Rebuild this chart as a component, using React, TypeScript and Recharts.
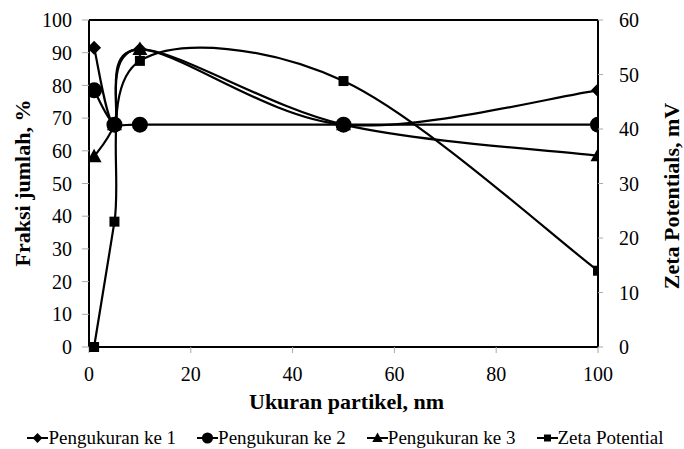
import React from 'react';
import { ComposedChart, Line, XAxis, YAxis, Legend, ReferenceLine, Label } from 'recharts';

const sizes = [1, 5, 10, 50, 100];
const pengukuran1 = [91.5, 68, 91, 68, 78.5];
const pengukuran2 = [78.5, 68, 68, 68, 68];
const pengukuran3 = [58.2, 68, 91, 68, 58.5];
const zetaPotential = [0, 23, 52.5, 48.8, 14];

const xTicks = [0, 20, 40, 60, 80, 100];
const leftTicks = [0, 10, 20, 30, 40, 50, 60, 70, 80, 90, 100];
const rightTicks = [0, 10, 20, 30, 40, 50, 60];

const data = sizes.map((x, i) => ({
  x,
  p1: pengukuran1[i],
  p2: pengukuran2[i],
  p3: pengukuran3[i],
  zeta: zetaPotential[i],
}));

const FONT = '"Liberation Serif", "Times New Roman", serif';

// Excel-like smoothing (uniform Catmull-Rom as cubic Beziers)
const excelSmooth: any = (context: any) => {
  let pts: [number, number][] = [];
  return {
    areaStart() {},
    areaEnd() {},
    lineStart() {
      pts = [];
    },
    point(x: number, y: number) {
      pts.push([+x, +y]);
    },
    lineEnd() {
      const n = pts.length;
      if (!n) return;
      context.moveTo(pts[0][0], pts[0][1]);
      for (let i = 0; i < n - 1; i++) {
        const p0 = pts[i - 1] || pts[i];
        const p1 = pts[i];
        const p2 = pts[i + 1];
        const p3 = pts[i + 2] || p2;
        context.bezierCurveTo(
          p1[0] + (p2[0] - p0[0]) / 6,
          p1[1] + (p2[1] - p0[1]) / 6,
          p2[0] - (p3[0] - p1[0]) / 6,
          p2[1] - (p3[1] - p1[1]) / 6,
          p2[0],
          p2[1]
        );
      }
    },
  };
};

type Shape = 'diamond' | 'circle' | 'triangle' | 'square';

const marker = (shape: Shape, cx: number, cy: number, s: number, key?: any) => {
  if (cx == null || cy == null || isNaN(cx) || isNaN(cy)) return <g key={key} />;
  switch (shape) {
    case 'diamond':
      return (
        <polygon key={key} points={`${cx},${cy - s} ${cx + s},${cy} ${cx},${cy + s} ${cx - s},${cy}`} fill="#000" />
      );
    case 'circle':
      return <circle key={key} cx={cx} cy={cy} r={s} fill="#000" />;
    case 'triangle':
      return (
        <polygon
          key={key}
          points={`${cx},${cy - s * 1.05} ${cx + s},${cy + s * 0.75} ${cx - s},${cy + s * 0.75}`}
          fill="#000"
        />
      );
    default:
      return <rect key={key} x={cx - s} y={cy - s} width={2 * s} height={2 * s} fill="#000" />;
  }
};

const seriesShapes: Record<string, Shape> = { p1: 'diamond', p2: 'circle', p3: 'triangle', zeta: 'square' };
const seriesSizes: Record<string, number> = { p1: 7, p2: 8, p3: 7.5, zeta: 5 };

const dotFor = (key: string) => (props: any) =>
  marker(seriesShapes[key], props.cx, props.cy, seriesSizes[key], `${key}-${props.index}`);

const LegendContent = (props: any) => {
  const payload = props.payload || [];
  return (
    <div
      style={{
        display: 'flex',
        justifyContent: 'center',
        gap: 21,
        fontFamily: FONT,
        fontSize: 19,
        color: '#000',
        paddingLeft: 7,
      }}
    >
      {payload.map((entry: any) => {
        const k = entry.dataKey as string;
        const sz = seriesSizes[k] * 0.7;
        return (
          <div key={k} style={{ display: 'flex', alignItems: 'center', whiteSpace: 'nowrap' }}>
            <svg width={21} height={16} style={{ marginRight: 0 }}>
              <line x1={0} y1={8} x2={21} y2={8} stroke="#000" strokeWidth={2} />
              {marker(seriesShapes[k], 10.5, 8, sz)}
            </svg>
            <span>{entry.value}</span>
          </div>
        );
      })}
    </div>
  );
};

const tickStyle = { fontSize: 20, fill: '#000', fontFamily: FONT };

export default function App() {
  return (
    <div style={{ position: 'fixed', left: 0, top: 0, width: 684, height: 449, background: '#fff' }}>
      <ComposedChart width={684} height={449} data={data} margin={{ top: 20, right: 0, bottom: 0, left: 0 }}>
        <XAxis
          dataKey="x"
          type="number"
          domain={[0, 100]}
          ticks={xTicks}
          allowDataOverflow
          height={102}
          axisLine={{ stroke: '#000', strokeWidth: 2 }}
          tickLine={{ stroke: '#aaa', strokeWidth: 1 }}
          tickSize={6}
          tickMargin={14}
          tick={tickStyle}
        >
          <Label
            content={(p: any) => {
              const vb = p.viewBox || {};
              return (
                <text
                  x={vb.x + vb.width / 2 + 3}
                  y={409}
                  textAnchor="middle"
                  fontFamily={FONT}
                  fontWeight="bold"
                  fontSize={22}
                  fill="#000"
                >
                  Ukuran partikel, nm
                </text>
              );
            }}
          />
        </XAxis>
        <YAxis
          yAxisId="left"
          orientation="left"
          domain={[0, 100]}
          ticks={leftTicks}
          width={89}
          axisLine={{ stroke: '#000', strokeWidth: 2 }}
          tickLine={{ stroke: '#aaa', strokeWidth: 1 }}
          tickSize={7}
          tickMargin={10}
          tick={tickStyle}
        >
          <Label
            content={() => (
              <text
                x={22}
                y={183}
                dy="0.35em"
                transform="rotate(-90, 22, 183)"
                textAnchor="middle"
                fontFamily={FONT}
                fontWeight="bold"
                fontSize={22}
                fill="#000"
              >
                Fraksi jumlah, %
              </text>
            )}
          />
        </YAxis>
        <YAxis
          yAxisId="right"
          orientation="right"
          domain={[0, 60]}
          ticks={rightTicks}
          width={86}
          axisLine={{ stroke: '#000', strokeWidth: 2 }}
          tickLine={{ stroke: '#aaa', strokeWidth: 1 }}
          tickSize={5}
          tickMargin={16}
          tick={{ ...tickStyle, textAnchor: 'start' }}
        >
          <Label
            content={() => (
              <text
                x={671}
                y={196}
                dy="0.35em"
                transform="rotate(-90, 671, 196)"
                textAnchor="middle"
                fontFamily={FONT}
                fontWeight="bold"
                fontSize={22}
                fill="#000"
              >
                Zeta Potentials, mV
              </text>
            )}
          />
        </YAxis>
        <ReferenceLine yAxisId="left" y={100} stroke="#000" strokeWidth={2} />
        <Line
          yAxisId="left"
          dataKey="p1"
          name="Pengukuran ke 1"
          type={excelSmooth}
          stroke="#000"
          strokeWidth={2.2}
          dot={dotFor('p1')}
          activeDot={false}
          isAnimationActive={false}
        />
        <Line
          yAxisId="left"
          dataKey="p2"
          name="Pengukuran ke 2"
          type={excelSmooth}
          stroke="#000"
          strokeWidth={2.2}
          dot={dotFor('p2')}
          activeDot={false}
          isAnimationActive={false}
        />
        <Line
          yAxisId="left"
          dataKey="p3"
          name="Pengukuran ke 3"
          type={excelSmooth}
          stroke="#000"
          strokeWidth={2.2}
          dot={dotFor('p3')}
          activeDot={false}
          isAnimationActive={false}
        />
        <Line
          yAxisId="right"
          dataKey="zeta"
          name="Zeta Potential"
          type={excelSmooth}
          stroke="#000"
          strokeWidth={2.2}
          dot={dotFor('zeta')}
          activeDot={false}
          isAnimationActive={false}
        />
        <Legend
          verticalAlign="middle"
          align="center"
          layout="horizontal"
          content={LegendContent}
          wrapperStyle={{ position: 'absolute', top: 427, left: 0, width: 684, height: 24 }}
        />
      </ComposedChart>
    </div>
  );
}
